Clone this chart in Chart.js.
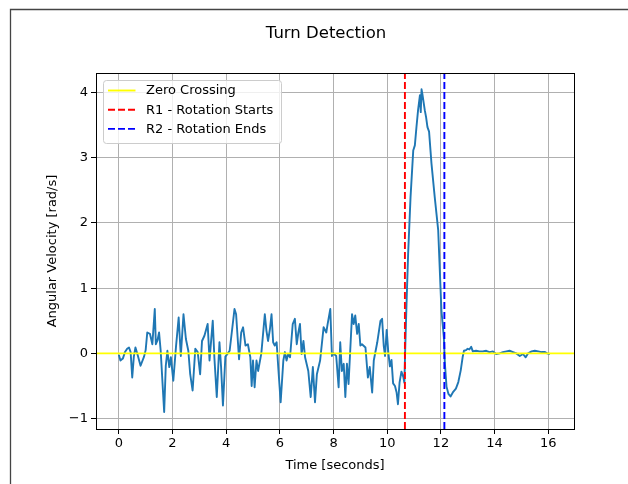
<!DOCTYPE html>
<html><head><meta charset="utf-8">
<script src="https://cdn.jsdelivr.net/npm/chart.js@4"></script>
<style>html,body{margin:0;padding:0;background:#fff;}#wrap{position:relative;width:628px;height:484px;}</style>
</head><body><div id="wrap"><canvas id="c" width="628" height="484"></canvas></div>
<script>
const timeSeconds = [0.00,0.06,0.15,0.23,0.31,0.38,0.44,0.50,0.56,0.62,0.70,0.81,0.94,1.00,1.06,1.16,1.25,1.34,1.38,1.44,1.50,1.56,1.69,1.75,1.81,1.88,1.94,2.03,2.13,2.23,2.31,2.41,2.50,2.59,2.66,2.75,2.85,2.94,3.03,3.10,3.19,3.31,3.38,3.50,3.56,3.65,3.75,3.81,3.88,3.97,4.06,4.13,4.31,4.37,4.48,4.56,4.63,4.72,4.81,4.90,4.95,5.00,5.06,5.13,5.19,5.31,5.44,5.50,5.56,5.63,5.69,5.75,5.81,5.88,5.94,6.03,6.13,6.19,6.25,6.31,6.38,6.48,6.56,6.63,6.69,6.75,6.81,6.88,6.94,7.06,7.15,7.23,7.31,7.38,7.50,7.63,7.73,7.78,7.88,7.94,8.00,8.10,8.19,8.25,8.31,8.38,8.44,8.50,8.56,8.69,8.75,8.81,8.88,8.94,9.00,9.06,9.19,9.28,9.35,9.44,9.50,9.63,9.75,9.81,9.87,9.92,9.98,10.04,10.10,10.16,10.22,10.29,10.35,10.40,10.46,10.53,10.60,10.64,10.67,10.72,10.78,10.87,10.97,11.03,11.09,11.15,11.22,11.25,11.28,11.31,11.40,11.45,11.50,11.56,11.65,11.77,11.90,11.96,12.02,12.11,12.15,12.21,12.28,12.36,12.46,12.56,12.65,12.74,12.81,12.86,12.94,13.00,13.06,13.13,13.19,13.31,13.44,13.56,13.69,13.81,13.94,14.06,14.19,14.31,14.44,14.56,14.69,14.81,14.94,15.06,15.16,15.25,15.38,15.50,15.63,15.75,15.88,15.96,16.06];
const angularVelocity = [-0.02,-0.11,-0.08,0.02,0.07,0.09,0.02,-0.37,-0.05,0.09,-0.02,-0.19,-0.05,0.05,0.32,0.30,0.14,0.68,0.14,0.20,0.32,0.04,-0.90,-0.19,0.04,-0.21,-0.06,-0.42,0.10,0.55,-0.04,0.60,0.22,0.04,-0.32,-0.57,0.07,0.02,-0.32,0.19,0.27,0.45,-0.11,0.50,-0.06,-0.67,0.17,-0.21,-0.80,-0.05,0.00,0.04,0.68,0.60,-0.09,0.32,0.40,0.12,0.14,-0.06,-0.50,-0.11,-0.52,-0.11,-0.27,0.00,0.60,0.35,0.19,0.37,0.60,0.17,0.12,0.17,-0.21,-0.75,-0.11,0.02,-0.11,-0.01,-0.06,0.45,0.53,0.14,0.32,0.45,-0.01,0.19,-0.06,-0.27,-0.67,-0.21,-0.75,-0.32,-0.11,0.40,0.32,0.45,0.68,-0.04,0.00,-0.04,-0.52,0.17,-0.27,-0.16,-0.67,-0.16,-0.47,0.60,0.45,0.58,0.30,0.45,0.12,0.14,0.09,-0.37,-0.21,-0.60,-0.11,0.17,0.50,0.53,0.12,-0.04,0.36,0.02,-0.20,-0.10,-0.46,-0.50,-0.60,-0.78,-0.45,-0.28,-0.36,-0.45,0.05,0.76,1.53,2.40,3.11,3.19,3.47,3.73,3.96,3.70,4.05,3.98,3.73,3.62,3.47,3.40,2.91,2.40,1.89,1.27,0.66,0.25,-0.16,-0.51,-0.62,-0.66,-0.59,-0.54,-0.44,-0.26,-0.06,0.04,0.05,0.07,0.06,0.10,0.03,0.04,0.03,0.03,0.04,0.02,0.03,-0.01,0.00,0.02,0.03,0.04,0.02,0.00,-0.04,-0.01,-0.06,0.00,0.03,0.04,0.03,0.02,0.02,0.00,-0.01];
const xTickValues = [0,2,4,6,8,10,12,14,16];
const yTickValues = [-1,0,1,2,3,4];
const zeroCrossingLevel = [0];
const rotationStartTime = [10.66];
const rotationEndTime = [12.13];
const legendLabels = ['Zero Crossing','R1 - Rotation Starts','R2 - Rotation Ends'];
const legendColors = ['#ffff00','#ff0000','#0000ff'];
const legendDashed = [false,true,true];
const chartTitle = 'Turn Detection';
const xAxisTitle = 'Time [seconds]';
const yAxisTitle = 'Angular Velocity [rad/s]';

const FONT = 'DejaVu Sans';
const FS = 13;
Chart.defaults.font.family = FONT;
Chart.defaults.color = '#000';

const points = timeSeconds.map((t,i)=>({x:t,y:angularVelocity[i]}));

const decorPlugin = {
  id:'decor',
  beforeDraw(chart){
    const ctx = chart.ctx;
    ctx.save();
    ctx.fillStyle='#fff';
    ctx.fillRect(0,0,chart.width,chart.height);
    ctx.strokeStyle='#444';
    ctx.lineWidth=1.3;
    ctx.beginPath();
    ctx.moveTo(10.5,chart.height+2);ctx.lineTo(10.5,9.5);ctx.lineTo(chart.width+2,9.5);
    ctx.stroke();
    ctx.fillStyle='#000';
    ctx.font = '16.5px "'+FONT+'"';
    ctx.textAlign='center';ctx.textBaseline='middle';
    ctx.fillText(chartTitle,326,34);
    ctx.restore();
  },
  afterDatasetsDraw(chart){
    const {ctx, chartArea:a, scales:{x,y}} = chart;
    ctx.save();
    ctx.beginPath();ctx.rect(a.left,a.top,a.right-a.left,a.bottom-a.top);ctx.clip();
    ctx.lineWidth=1.9;
    zeroCrossingLevel.forEach(v=>{
      const py=y.getPixelForValue(v);
      ctx.strokeStyle=legendColors[0];ctx.setLineDash([]);
      ctx.beginPath();ctx.moveTo(a.left,py);ctx.lineTo(a.right,py);ctx.stroke();
    });
    [[rotationStartTime,legendColors[1]],[rotationEndTime,legendColors[2]]].forEach(([arr,col])=>{
      arr.forEach(v=>{
        const px=x.getPixelForValue(v);
        ctx.strokeStyle=col;ctx.setLineDash([7,3]);
        ctx.beginPath();ctx.moveTo(px,a.bottom);ctx.lineTo(px,a.top);ctx.stroke();
      });
    });
    ctx.restore();
  },
  afterDraw(chart){
    const {ctx, chartArea:a} = chart;
    ctx.save();
    ctx.strokeStyle='#000';ctx.lineWidth=1;ctx.setLineDash([]);
    ctx.strokeRect(Math.round(a.left)+0.5,Math.round(a.top)+0.5,Math.round(a.right-a.left),Math.round(a.bottom-a.top));
    // legend
    const bx=a.left+7.5, by=a.top+7.5, bw=178, bh=63, r=3;
    ctx.beginPath();
    ctx.moveTo(bx+r,by);ctx.lineTo(bx+bw-r,by);ctx.quadraticCurveTo(bx+bw,by,bx+bw,by+r);
    ctx.lineTo(bx+bw,by+bh-r);ctx.quadraticCurveTo(bx+bw,by+bh,bx+bw-r,by+bh);
    ctx.lineTo(bx+r,by+bh);ctx.quadraticCurveTo(bx,by+bh,bx,by+bh-r);
    ctx.lineTo(bx,by+r);ctx.quadraticCurveTo(bx,by,bx+r,by);ctx.closePath();
    ctx.fillStyle='rgba(255,255,255,0.8)';ctx.fill();
    ctx.strokeStyle='#cccccc';ctx.stroke();
    ctx.font = FS+'px "'+FONT+'"';
    ctx.textAlign='left';ctx.textBaseline='middle';
    legendLabels.forEach((lab,i)=>{
      const ly=by+10+i*19.2;
      ctx.strokeStyle=legendColors[i];ctx.lineWidth=1.9;
      ctx.setLineDash(legendDashed[i]?[7,3]:[]);
      ctx.beginPath();ctx.moveTo(bx+4.5,ly);ctx.lineTo(bx+32,ly);ctx.stroke();
      ctx.fillStyle='#000';
      ctx.fillText(lab,bx+42.5,ly+0.5);
    });
    ctx.restore();
  }
};

new Chart(document.getElementById('c'),{
  type:'line',
  data:{datasets:[{data:points,borderColor:'#1f77b4',borderWidth:1.9,pointRadius:0,tension:0,borderJoinStyle:'round',fill:false}]},
  options:{
    responsive:false,animation:false,devicePixelRatio:1,
    layout:{padding:{left:0,top:73,right:54,bottom:0}},
    plugins:{legend:{display:false},tooltip:{enabled:false},title:{display:false}},
    scales:{
      x:{type:'linear',min:-0.85,max:16.96,
        afterFit(s){s.height=55;},
        afterBuildTicks(s){s.ticks=xTickValues.map(v=>({value:v}));},
        ticks:{font:{size:FS},color:'#000',padding:2,maxRotation:0,autoSkip:false},
        grid:{color:'#b0b0b0',lineWidth:1,tickColor:'#000',tickLength:5,tickWidth:1},
        border:{color:'#000',width:1},
        title:{display:true,text:xAxisTitle,font:{size:FS},color:'#000',padding:{top:0,bottom:10.2}}
      },
      y:{type:'linear',min:-1.16,max:4.30,
        afterFit(s){s.width=96;},
        afterBuildTicks(s){s.ticks=yTickValues.map(v=>({value:v}));},
        ticks:{font:{size:FS},color:'#000',padding:3,autoSkip:false,callback:v=>v<0?'\u2212'+Math.abs(v):String(v)},
        grid:{color:'#b0b0b0',lineWidth:1,tickColor:'#000',tickLength:5,tickWidth:1},
        border:{color:'#000',width:1},
        title:{display:true,text:yAxisTitle,font:{size:FS},color:'#000',padding:{top:45.2,bottom:0}}
      }
    }
  },
  plugins:[decorPlugin]
});
</script></body></html>
